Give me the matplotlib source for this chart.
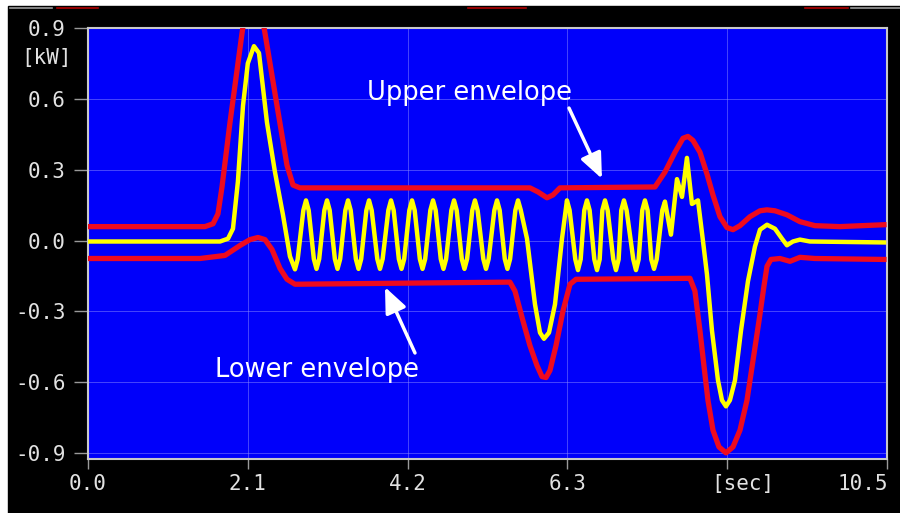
import numpy as np
import matplotlib
matplotlib.use("Agg")
import matplotlib.pyplot as plt
from matplotlib.lines import Line2D
from matplotlib.patches import Rectangle
from matplotlib.transforms import ScaledTranslation

# power signal [kW] vs time [sec]
t_sig = [0.0, 1.735, 1.84, 1.905, 1.97, 2.037, 2.10, 2.181, 2.247, 2.352, 2.457, 2.562, 2.654,
         2.72, 2.755, 2.83, 2.865, 2.90, 2.968, 3.003, 3.038, 3.106, 3.141, 3.176, 3.244,
         3.279, 3.314, 3.382, 3.417, 3.452, 3.520, 3.555, 3.590, 3.658, 3.693, 3.728, 3.802,
         3.837, 3.872, 3.947, 3.982, 4.017, 4.085, 4.120, 4.155, 4.223, 4.258, 4.293, 4.361,
         4.396, 4.431, 4.499, 4.534, 4.569, 4.636, 4.671, 4.706, 4.775, 4.810, 4.845, 4.912,
         4.947, 4.982, 5.050, 5.085, 5.120, 5.195, 5.230, 5.265, 5.340, 5.375, 5.410, 5.477,
         5.512, 5.547, 5.616, 5.651, 5.686,
         5.769, 5.874, 5.94, 5.992, 6.058, 6.137, 6.229,
         6.294, 6.329, 6.404, 6.439, 6.474, 6.522, 6.557, 6.592, 6.654, 6.689, 6.724, 6.759,
         6.794, 6.829, 6.903, 6.938, 6.973, 7.008, 7.043, 7.078, 7.166, 7.201, 7.236, 7.284,
         7.319, 7.354, 7.403, 7.438, 7.473, 7.547,
         7.582, 7.661, 7.74, 7.806, 7.871, 7.937, 8.016,
         8.081, 8.134, 8.2, 8.279, 8.331, 8.384, 8.436, 8.502, 8.581, 8.673,
         8.765, 8.831, 8.923, 9.028, 9.12, 9.185, 9.264, 9.356, 9.487, 10.46]
p_sig = [-0.004, -0.004, 0.008, 0.05, 0.25, 0.571, 0.75, 0.823, 0.794, 0.5, 0.29, 0.109, -0.067,
         -0.122, -0.08, 0.128, 0.17, 0.128, -0.078, -0.12, -0.078, 0.128, 0.17, 0.128, -0.078,
         -0.12, -0.078, 0.128, 0.17, 0.128, -0.078, -0.12, -0.078, 0.128, 0.17, 0.128, -0.078,
         -0.12, -0.078, 0.128, 0.17, 0.128, -0.078, -0.12, -0.078, 0.128, 0.17, 0.128, -0.078,
         -0.12, -0.078, 0.128, 0.17, 0.128, -0.078, -0.12, -0.078, 0.128, 0.17, 0.128, -0.078,
         -0.12, -0.078, 0.128, 0.17, 0.128, -0.078, -0.12, -0.078, 0.128, 0.17, 0.128, -0.078,
         -0.12, -0.078, 0.128, 0.17, 0.13,
         0.008, -0.27, -0.39, -0.416, -0.39, -0.27, 0.008,
         0.17, 0.128, -0.08, -0.125, -0.08, 0.128, 0.17, 0.128, -0.08, -0.125, -0.08, 0.128,
         0.17, 0.128, -0.08, -0.125, -0.08, 0.128, 0.17, 0.128, -0.08, -0.125, -0.08, 0.128,
         0.17, 0.128, -0.08, -0.12, -0.08, 0.128,
         0.165, 0.025, 0.26, 0.185, 0.35, 0.155, 0.17,
         0.0, -0.143, -0.382, -0.592, -0.676, -0.702, -0.676, -0.592, -0.382, -0.172,
         -0.025, 0.046, 0.067, 0.05, 0.008, -0.02, -0.004, 0.004, -0.004, -0.008]

# upper envelope
t_up = [0.0, 1.537, 1.643, 1.708, 1.761, 1.866, 2.024, 2.102, 2.168, 2.234, 2.326, 2.484, 2.615,
        2.694, 2.786, 5.808, 5.913, 6.032, 6.11, 6.202, 7.451, 7.582, 7.714, 7.819, 7.884,
        7.95, 8.042, 8.134, 8.213, 8.305, 8.397, 8.476, 8.568, 8.699, 8.831, 8.923, 9.028,
        9.185, 9.356, 9.553, 9.882, 10.46]
p_up = [0.059, 0.059, 0.071, 0.113, 0.227, 0.5, 0.878, 1.046, 1.097, 1.046, 0.878, 0.571, 0.319,
        0.235, 0.223, 0.223, 0.206, 0.181, 0.193, 0.223, 0.227, 0.29, 0.374, 0.433, 0.441,
        0.424, 0.374, 0.282, 0.193, 0.101, 0.055, 0.046, 0.063, 0.101, 0.126, 0.13, 0.126,
        0.109, 0.08, 0.063, 0.059, 0.067]

# lower envelope
t_lo = [0.0, 1.472, 1.8, 1.997, 2.129, 2.234, 2.326, 2.418, 2.523, 2.615, 2.72, 5.545, 5.611,
        5.716, 5.808, 5.9, 5.966, 6.019, 6.071, 6.15, 6.242, 6.334, 6.413, 7.911, 7.976,
        8.042, 8.094, 8.147, 8.213, 8.292, 8.384, 8.476, 8.568, 8.66, 8.739, 8.818, 8.883,
        8.923, 8.975, 9.093, 9.225, 9.356, 9.553, 10.46]
p_lo = [-0.076, -0.076, -0.063, -0.021, 0.004, 0.013, 0.004, -0.038, -0.118, -0.164, -0.185,
        -0.176, -0.214, -0.34, -0.445, -0.529, -0.576, -0.58, -0.55, -0.445, -0.298, -0.185,
        -0.164, -0.16, -0.214, -0.382, -0.529, -0.676, -0.803, -0.874, -0.899, -0.874, -0.803,
        -0.676, -0.508, -0.34, -0.193, -0.109, -0.08, -0.076, -0.088, -0.071, -0.076, -0.08]

x_ticks = [0.0, 2.1, 4.2, 6.3, 8.4, 10.5]
x_labels = ["0.0", "2.1", "4.2", "6.3", "[sec]", "10.5"]
y_ticks = [0.9, 0.6, 0.3, 0.0, -0.3, -0.6, -0.9]
y_labels = ["0.9", "0.6", "0.3", "0.0", "-0.3", "-0.6", "-0.9"]

W, H = 900, 513
fig = plt.figure(figsize=(W / 100, H / 100), dpi=100, facecolor="white")
fig.add_artist(Rectangle((8 / W, 0), 1, 1 - 6 / H, transform=fig.transFigure,
                         color="black", zorder=-10))
# cropped legend bits along the top edge
for x0, x1, c in [(10, 52, "#9a9a9a"), (57, 98, "#b00000"), (468, 526, "#b00000"),
                  (805, 848, "#b00000"), (851, 900, "#9a9a9a")]:
    fig.add_artist(Line2D([x0 / W, x1 / W], [1 - 7.5 / H] * 2, transform=fig.transFigure,
                          color=c, lw=1.2))

ax = fig.add_axes([88 / W, 54 / H, 799 / W, 431 / H])
ax.set_facecolor("#0000fa")

ax.plot(t_up, p_up, color="#ee0a1e", lw=3.8, solid_joinstyle="round", zorder=3)
ax.plot(t_lo, p_lo, color="#ee0a1e", lw=3.8, solid_joinstyle="round", zorder=3)
ax.plot(t_sig, p_sig, color="#ffff00", lw=3.2, solid_joinstyle="round", zorder=4)

ax.set_xlim(0, 10.5)
ax.set_ylim(-0.925, 0.9)
ax.set_xticks(x_ticks)
ax.set_xticklabels(x_labels)
ax.set_yticks(y_ticks)
ax.set_yticklabels(y_labels)
ax.grid(True, color="#8c8cff", lw=0.7, alpha=0.5)
ax.set_axisbelow(True)

mono = "DejaVu Sans Mono"
ax.tick_params(axis="x", length=7, width=1, color="#9a9a9a", pad=4,
               labelsize=15, labelcolor="#e2e2e2")
ax.tick_params(axis="y", length=10, width=1, color="#9a9a9a", pad=6,
               labelsize=15, labelcolor="#e2e2e2")
for lab in ax.get_xticklabels() + ax.get_yticklabels():
    lab.set_fontfamily(mono)
xl = ax.get_xticklabels()
xl[-1].set_horizontalalignment("right")
xl[-1].set_transform(xl[-1].get_transform() + ScaledTranslation(0.01, 0, fig.dpi_scale_trans))
xl[4].set_transform(xl[4].get_transform() + ScaledTranslation(0.16, 0, fig.dpi_scale_trans))

for s in ax.spines.values():
    s.set_color("#c8c8c8")
    s.set_linewidth(1.5)

fig.text(46 / W, 1 - 58 / H, "[kW]", family=mono, fontsize=15, color="#e2e2e2",
         ha="center", va="center")

ax.text(5.007, 0.625, "Upper envelope", color="white", fontsize=18.5, ha="center", va="center")
ax.text(3.003, -0.55, "Lower envelope", color="white", fontsize=18.5, ha="center", va="center")
arrow = dict(arrowstyle="-|>,head_length=0.7,head_width=0.3", color="white", lw=2.5,
             mutation_scale=22, shrinkA=0, shrinkB=0)
ax.annotate("", xy=(6.754, 0.262), xytext=(6.321, 0.561), arrowprops=arrow, zorder=6)
ax.annotate("", xy=(3.903, -0.197), xytext=(4.297, -0.476), arrowprops=arrow, zorder=6)

fig.savefig("out.png", dpi=100, facecolor=fig.get_facecolor())
